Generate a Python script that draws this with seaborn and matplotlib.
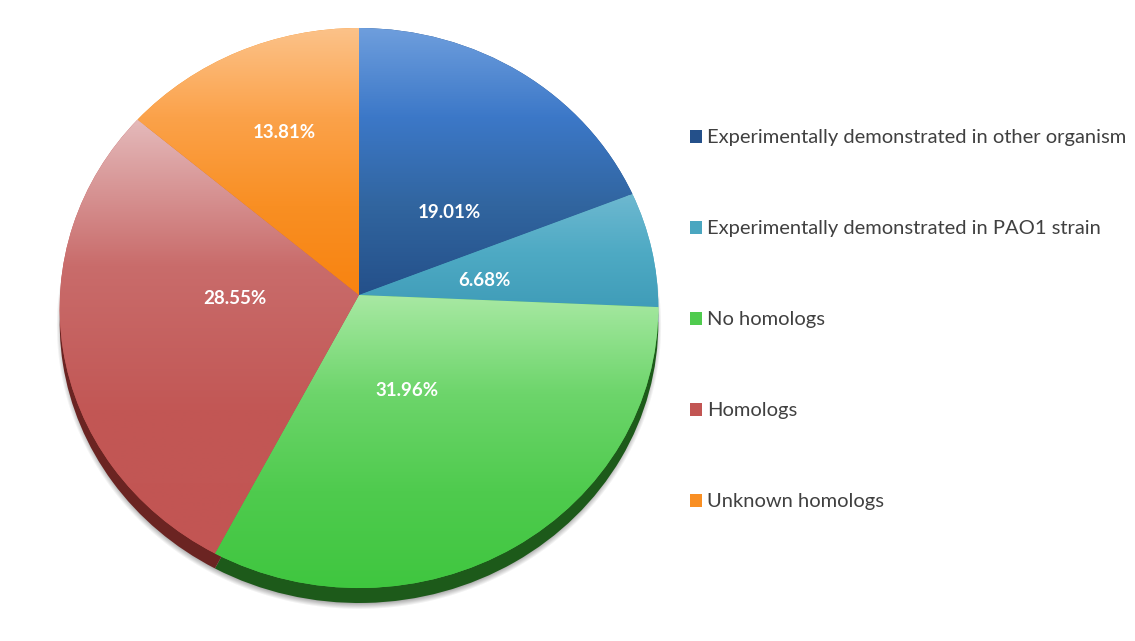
import numpy as np
import matplotlib
matplotlib.use("Agg")
import matplotlib.pyplot as plt
from matplotlib.patches import Patch
from matplotlib.transforms import Transform, ScaledTranslation
import seaborn as sns

sns.set_theme(style="white")
plt.rcParams["font.family"] = ["Lato", "DejaVu Sans"]

# Slice data, clockwise from twelve o'clock
categories = [
    "Experimentally demonstrated in other organism",
    "Experimentally demonstrated in PAO1 strain",
    "No homologs",
    "Homologs",
    "Unknown homologs",
]
shares = [19.01, 6.68, 31.96, 28.55, 13.81]

# Styling: vertical colour ramps of the top face, rim colours and key swatches
ramps = [
    ["#6e9edd", "#3c78c8", "#31659f", "#24508a"],
    ["#6db8d0", "#4eaac4", "#3f9cb8"],
    ["#a8e9a3", "#6dd56b", "#4fcb4e", "#3fc63f"],
    ["#e4b9ba", "#c96c6b", "#c25755", "#c25553"],
    ["#fcc289", "#fba24a", "#f98f23", "#f88310"],
]
ramp_spans = [(28, 295), (195, 310), (295, 590), (120, 556), (28, 295)]
rims = ["#1a3a63", "#2a6a7e", "#1d5a1a", "#6b2422", "#a85a10"]
swatches = ["#24508a", "#4aa6c0", "#4fcb4e", "#c25553", "#f98f23"]
label_spots = [(449, 212), (484, 281), (407, 391), (235, 298), (284, 132)]

WIDTH, HEIGHT = 1135, 641
APEX_X, APEX_Y = 359, 295
RX, RY, TILT = 299.0, 279.4, -0.0464
RIM_DEPTH = 15


class PerspectiveDisc(Transform):
    """Projects the unit pie disc to a tilted ellipse in pixel-like data units."""
    input_dims = 2
    output_dims = 2
    is_separable = False
    has_inverse = False

    def transform_non_affine(self, values):
        x, y = np.asarray(values, dtype=float).T
        w = 1 - TILT * y
        return np.column_stack((APEX_X + RX * x / w, APEX_Y - RY * y / w))


fig = plt.figure(figsize=(WIDTH / 100, HEIGHT / 100), dpi=100, facecolor="white")
ax = fig.add_axes([0, 0, 1, 1])

tilt = PerspectiveDisc()
rim_shift = ScaledTranslation(0, -RIM_DEPTH / 100, fig.dpi_scale_trans)

# Rim of the disc: the same pie, darker, slid downwards
rim_wedges, _ = ax.pie(shares, colors=rims, startangle=90, counterclock=False,
                       wedgeprops=dict(linewidth=0))
for wedge in rim_wedges:
    wedge.set_transform(tilt + ax.transData + rim_shift)
    wedge.set_zorder(1)

# Top face, each slice filled by its own vertical ramp
top_wedges, _ = ax.pie(shares, colors=swatches, startangle=90, counterclock=False,
                       wedgeprops=dict(linewidth=0))
for wedge, ramp, (y0, y1) in zip(top_wedges, ramps, ramp_spans):
    wedge.set_transform(tilt + ax.transData)
    wedge.set_zorder(2)
    cmap = sns.blend_palette(ramp, n_colors=256, as_cmap=True)
    im = ax.imshow(np.linspace(0, 1, 256)[:, None], cmap=cmap, aspect="auto",
                   extent=(55, 665, y1, y0), origin="upper", zorder=3,
                   interpolation="bilinear")
    im.set_clip_path(wedge)

# Soft drop shadow just outside the rim
gx, gy = np.meshgrid(np.arange(WIDTH) + 0.5, np.arange(HEIGHT) + 0.5)
reach = np.hypot((gx - APEX_X) / RX, (gy - 326) / 280.0)
fade = np.clip((1.012 - reach) / 0.024, 0, 1) * 0.5
shadow = np.dstack((np.full_like(fade, 0.3), np.full_like(fade, 0.3),
                    np.full_like(fade, 0.3), fade))
ax.imshow(shadow, extent=(0, WIDTH, HEIGHT, 0), origin="upper", aspect="auto", zorder=0)

ax.set_aspect("auto")
ax.set_xlim(0, WIDTH)
ax.set_ylim(HEIGHT, 0)
ax.set_axis_off()

# Percentage labels on the slices
for share, (lx, ly) in zip(shares, label_spots):
    ax.text(lx, ly, f"{share:.2f}%", color="white", fontsize=13.5, fontweight="bold",
            ha="center", va="center", zorder=5)

# Key on the right
handles = [Patch(facecolor=c, edgecolor="none", label=name)
           for c, name in zip(swatches, categories)]
ax.legend(handles=handles, loc="upper left", frameon=False,
          bbox_to_anchor=(690 / WIDTH, 1 - 129.5 / HEIGHT), borderpad=0, borderaxespad=0,
          prop=dict(family="Lato", size=14.5), labelcolor="#404040",
          handlelength=0.62, handleheight=0.62, handletextpad=0.24,
          labelspacing=3.67)

fig.savefig("out.png", dpi=100, facecolor="white")
